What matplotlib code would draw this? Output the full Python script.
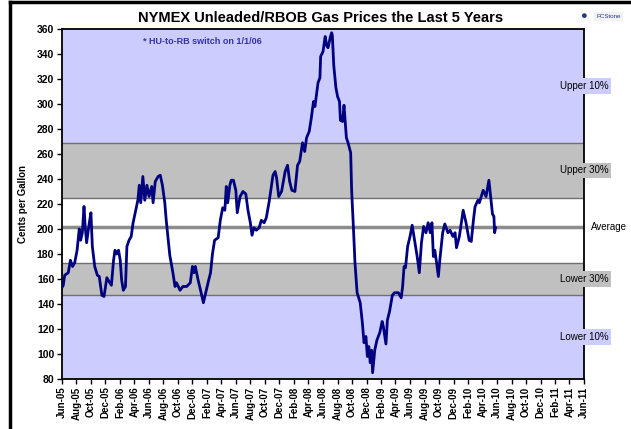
import matplotlib
matplotlib.use('Agg')
import matplotlib.pyplot as plt
import matplotlib.dates as mdates
import pandas as pd

plt.rcParams['font.family'] = ['Liberation Sans', 'DejaVu Sans']

# Weekly-ish gas price readings (cents per gallon)
dates = [
    '2005-06-01', '2005-06-07', '2005-06-13', '2005-06-28', '2005-07-07', '2005-07-16', '2005-07-25',
    '2005-08-04', '2005-08-13', '2005-08-19', '2005-08-26', '2005-09-02', '2005-09-07', '2005-09-13',
    '2005-09-22', '2005-10-01', '2005-10-07', '2005-10-17', '2005-10-28', '2005-11-05', '2005-11-16',
    '2005-11-25', '2005-12-07', '2005-12-16', '2005-12-26', '2006-01-04', '2006-01-10', '2006-01-17',
    '2006-01-25', '2006-02-01', '2006-02-07', '2006-02-14', '2006-02-23', '2006-03-01', '2006-03-10',
    '2006-03-19', '2006-03-27', '2006-04-07', '2006-04-16', '2006-04-22', '2006-04-28', '2006-05-07',
    '2006-05-15', '2006-05-24', '2006-06-02', '2006-06-13', '2006-06-19', '2006-06-28', '2006-07-10',
    '2006-07-19', '2006-07-28', '2006-08-07', '2006-08-13', '2006-08-28', '2006-09-10', '2006-09-19',
    '2006-09-25', '2006-10-10', '2006-10-22', '2006-11-07', '2006-11-22', '2006-12-01', '2006-12-07',
    '2006-12-13', '2006-12-25', '2007-01-04', '2007-01-16', '2007-01-28', '2007-02-07', '2007-02-15',
    '2007-02-23', '2007-03-04', '2007-03-19', '2007-03-28', '2007-04-07', '2007-04-16', '2007-04-22',
    '2007-04-28', '2007-05-07', '2007-05-13', '2007-05-22', '2007-06-01', '2007-06-07', '2007-06-19',
    '2007-07-01', '2007-07-13', '2007-07-22', '2007-08-01', '2007-08-08', '2007-08-16', '2007-08-26',
    '2007-09-07', '2007-09-16', '2007-09-28', '2007-10-07', '2007-10-19', '2007-11-04', '2007-11-13',
    '2007-11-19', '2007-11-28', '2007-12-10', '2007-12-25', '2008-01-04', '2008-01-13', '2008-01-22',
    '2008-02-04', '2008-02-15', '2008-02-24', '2008-03-07', '2008-03-16', '2008-03-24', '2008-04-04',
    '2008-04-13', '2008-04-22', '2008-04-28', '2008-05-04', '2008-05-11', '2008-05-19', '2008-05-22',
    '2008-06-01', '2008-06-10', '2008-06-16', '2008-06-22', '2008-07-01', '2008-07-07', '2008-07-10',
    '2008-07-16', '2008-07-25', '2008-08-01', '2008-08-09', '2008-08-13', '2008-08-22', '2008-08-28',
    '2008-09-07', '2008-09-14', '2008-09-25', '2008-09-29', '2008-10-07', '2008-10-13', '2008-10-22',
    '2008-11-04', '2008-11-13', '2008-11-20', '2008-11-28', '2008-12-04', '2008-12-10', '2008-12-16',
    '2008-12-22', '2008-12-26', '2009-01-04', '2009-01-13', '2009-01-25', '2009-02-04', '2009-02-09',
    '2009-02-20', '2009-02-26', '2009-03-07', '2009-03-19', '2009-03-28', '2009-04-13', '2009-04-25',
    '2009-05-01', '2009-05-07', '2009-05-13', '2009-05-22', '2009-06-01', '2009-06-10', '2009-06-22',
    '2009-07-01', '2009-07-10', '2009-07-19', '2009-07-28', '2009-08-07', '2009-08-16', '2009-08-25',
    '2009-09-01', '2009-09-07', '2009-09-13', '2009-09-19', '2009-09-28', '2009-10-04', '2009-10-16',
    '2009-10-25', '2009-11-07', '2009-11-16', '2009-11-28', '2009-12-07', '2009-12-13', '2009-12-25',
    '2010-01-04', '2010-01-10', '2010-01-22', '2010-02-04', '2010-02-13', '2010-02-22', '2010-03-01',
    '2010-03-13', '2010-03-19', '2010-04-04', '2010-04-16', '2010-04-28', '2010-05-07', '2010-05-13',
    '2010-05-19', '2010-05-22', '2010-05-26',
]
prices = [
    153, 155, 163, 165, 175, 170, 173,
    183, 200, 191, 197, 218, 202, 189,
    202, 213, 186, 170, 163, 162, 147,
    146, 161, 158, 155, 175, 183, 180,
    183, 175, 159, 151, 154, 186, 191,
    194, 205, 215, 223, 235, 221, 242,
    223, 235, 226, 234, 221, 238, 242,
    243, 235, 221, 207, 179, 165, 154,
    157, 151, 154, 154, 157, 170, 165,
    170, 159, 151, 141, 151, 159, 165,
    180, 191, 193, 207, 217, 215, 234,
    221, 235, 239, 239, 231, 213, 226,
    230, 228, 215, 205, 195, 201, 199,
    201, 207, 205, 209, 222, 243, 246,
    241, 226, 230, 246, 251, 238, 231,
    230, 251, 254, 269, 262, 273, 278,
    289, 302, 298, 307, 317, 321, 338,
    342, 354, 347, 345, 353, 357, 355,
    331, 313, 306, 302, 287, 286, 299,
    273, 269, 261, 231, 199, 173, 149,
    141, 125, 109, 114, 98, 106, 93,
    103, 85, 103, 111, 117, 126, 122,
    108, 127, 134, 147, 149, 149, 145,
    154, 170, 169, 186, 194, 203, 189,
    178, 165, 189, 202, 197, 205, 197,
    205, 178, 183, 175, 162, 175, 197,
    204, 197, 199, 194, 197, 185, 194,
    207, 215, 205, 191, 190, 207, 218,
    223, 221, 231, 226, 239, 223, 212,
    210, 197, 201,
]

# Percentile bands
band_edges = [80, 147.5, 172.8, 224.8, 268.8, 360]
band_colors = ['#CCCCFF', '#C0C0C0', '#FFFFFF', '#C0C0C0', '#CCCCFF']
average = 201.6
band_labels = ['Lower 10%', 'Lower 30%', None, 'Upper 30%', 'Upper 10%']

x = pd.to_datetime(dates)

fig = plt.figure(figsize=(6.31, 4.29), dpi=100)
ax = fig.add_axes([0.098, 0.1166, 0.8275, 0.8158])

for lo, hi, c in zip(band_edges[:-1], band_edges[1:], band_colors):
    ax.axhspan(lo, hi, color=c, zorder=0, lw=0)
for e in band_edges[1:-1]:
    ax.axhline(e, color='#707070', lw=1, zorder=1)
ax.axhline(average, color='#8C8C8C', lw=2.5, zorder=1)

ax.plot(x, prices, color='#000080', lw=2.0, zorder=3)

ax.set_ylim(80, 360)
ax.set_yticks(range(80, 361, 20))
ax.set_xlim(pd.Timestamp('2005-06-01'), pd.Timestamp('2011-06-01'))
ax.xaxis.set_major_locator(mdates.MonthLocator(bymonth=[2, 4, 6, 8, 10, 12]))
ax.xaxis.set_major_formatter(mdates.DateFormatter('%b-%y'))
for lab in ax.get_xticklabels():
    lab.set_rotation(90)
    lab.set_fontweight('bold')
    lab.set_fontsize(7)
for lab in ax.get_yticklabels():
    lab.set_fontweight('bold')
    lab.set_fontsize(7.5)
ax.tick_params(axis='both', direction='out', length=3.5, width=1, color='black', pad=2)
for s in ax.spines.values():
    s.set_linewidth(1.3)
    s.set_color('black')

ax.set_ylabel('Cents per Gallon', fontsize=7, fontweight='bold', labelpad=6)

fig.suptitle('NYMEX Unleaded/RBOB Gas Prices the Last 5 Years', x=0.508, y=0.975,
             fontsize=10.5, fontweight='bold')

ax.text(0.155, 0.963, '* HU-to-RB switch on 1/1/06', transform=ax.transAxes,
        fontsize=6.5, fontweight='bold', color='#3333AA', va='center')

trans = ax.get_yaxis_transform()
for lo, hi, lab, c in zip(band_edges[:-1], band_edges[1:], band_labels, band_colors):
    if lab is None:
        continue
    ax.text(1.0, (lo + hi) / 2, lab, transform=trans, ha='center', va='center',
            fontsize=7, clip_on=False, zorder=5,
            bbox=dict(boxstyle='square,pad=0.3', fc=c, ec='none'))
ax.text(1.013, average, 'Average', transform=trans, ha='left', va='center',
        fontsize=7, clip_on=False)

# small logo box top right
fig.text(0.925, 0.962, '\u25CF', fontsize=8, color='#1F3A7A', ha='center', va='center')
fig.text(0.945, 0.962, 'FCStone', fontsize=4.5, color='#1F3A7A', ha='left', va='center',
         bbox=dict(boxstyle='square,pad=0.3', fc='#F2F2F2', ec='none'))

# outer frame (left and top edges)
fig.add_artist(plt.Line2D([0.016, 0.016], [0, 0.995], color='black', lw=2.5, transform=fig.transFigure))
fig.add_artist(plt.Line2D([0.016, 1.0], [0.995, 0.995], color='black', lw=2.5, transform=fig.transFigure))

fig.savefig('out.png', dpi=100)
